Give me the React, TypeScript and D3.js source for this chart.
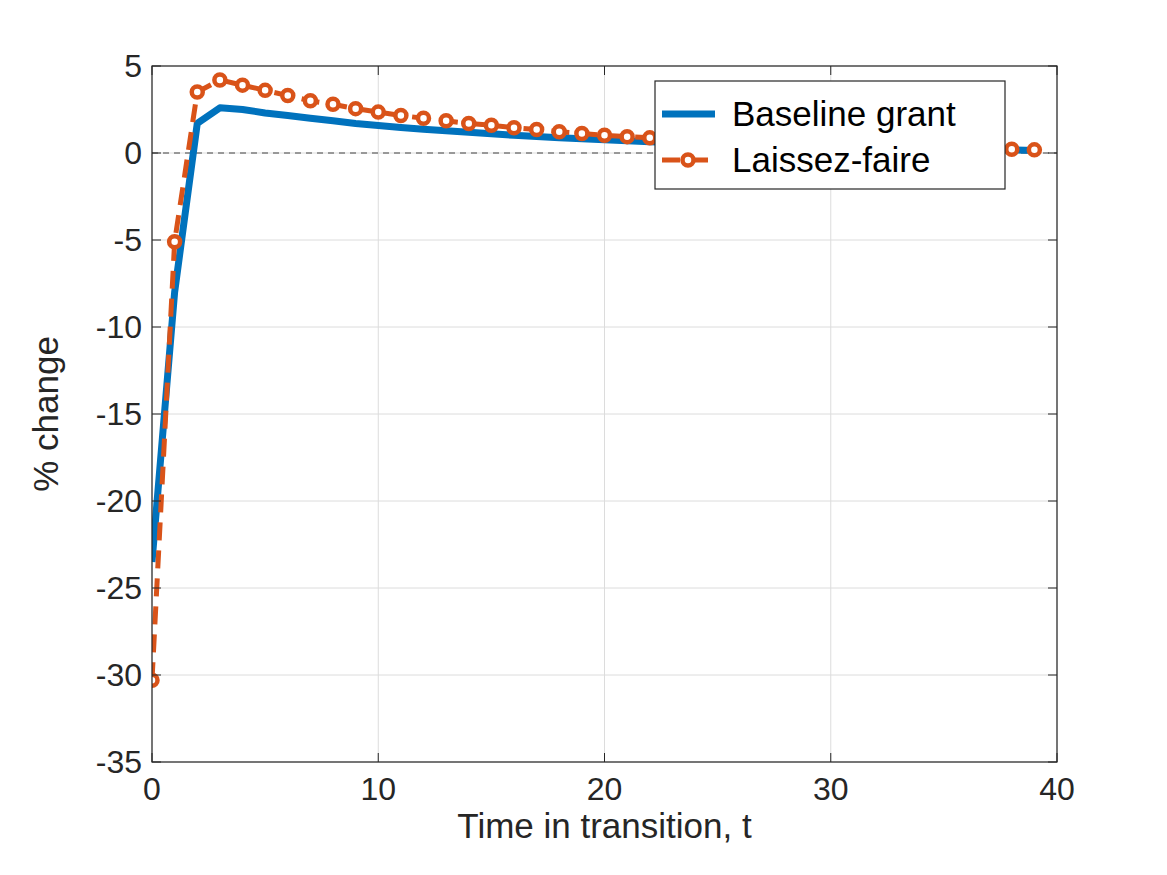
import React from "react";
import * as d3 from "d3";

const tSteps = d3.range(0, 40);
const baselineGrant = [
  -23.5, -8.0, 1.7, 2.6, 2.5, 2.3, 2.15, 2.0, 1.85, 1.7, 1.58, 1.47, 1.37, 1.28, 1.19, 1.1,
  1.02, 0.95, 0.88, 0.82, 0.76, 0.7, 0.65, 0.6, 0.56, 0.52, 0.48, 0.44, 0.41, 0.38, 0.35,
  0.32, 0.3, 0.27, 0.25, 0.23, 0.21, 0.19, 0.17, 0.15,
];
const laissezFaire = [
  -30.3, -5.1, 3.5, 4.2, 3.9, 3.6, 3.3, 3.0, 2.8, 2.55, 2.35, 2.15, 2.0, 1.85, 1.7, 1.6,
  1.45, 1.35, 1.22, 1.12, 1.02, 0.94, 0.87, 0.8, 0.74, 0.68, 0.63, 0.58, 0.54, 0.5, 0.46,
  0.42, 0.39, 0.36, 0.33, 0.3, 0.27, 0.24, 0.21, 0.18,
];
const xTicks = [0, 10, 20, 30, 40];
const yTicks = [5, 0, -5, -10, -15, -20, -25, -30, -35];

const W = 1167, H = 875;
const L = 152, R = 1057, T = 66, B = 762;
const BLUE = "#0072BD", ORANGE = "#D95319";
const FONT = "'Liberation Sans', Arial, sans-serif";

export default function App() {
  const x = d3.scaleLinear().domain([0, 40]).range([L, R]);
  const y = d3.scaleLinear().domain([-35, 5]).range([B, T]);
  const line = d3.line<number>().x((_, i) => x(tSteps[i])).y((d) => y(d));
  return (
    <svg width={W} height={H} style={{ position: "absolute", left: 0, top: 0, background: "#fff" }}>
      <defs>
        <clipPath id="plot"><rect x={L} y={T} width={R - L} height={B - T} /></clipPath>
      </defs>
      {xTicks.map((t) => (
        <line key={"gx" + t} x1={x(t)} x2={x(t)} y1={T} y2={B} stroke="#dcdcdc" strokeWidth={1} />
      ))}
      {yTicks.map((t) => (
        <line key={"gy" + t} x1={L} x2={R} y1={y(t)} y2={y(t)} stroke="#dcdcdc" strokeWidth={1} />
      ))}
      <line x1={L} x2={R} y1={y(0)} y2={y(0)} stroke="#444" strokeWidth={1} strokeDasharray="6,5" />
      <g clipPath="url(#plot)">
        <path d={line(baselineGrant) || ""} fill="none" stroke={BLUE} strokeWidth={7} strokeLinejoin="round" />
        <path d={line(laissezFaire) || ""} fill="none" stroke={ORANGE} strokeWidth={5} strokeDasharray="18,10" />
        {laissezFaire.map((v, i) => (
          <circle key={i} cx={x(tSteps[i])} cy={y(v)} r={5.5} fill="#fff" stroke={ORANGE} strokeWidth={4.5} />
        ))}
      </g>
      <rect x={L} y={T} width={R - L} height={B - T} fill="none" stroke="#262626" strokeWidth={1.2} />
      {xTicks.map((t) => (
        <g key={"tx" + t}>
          <line x1={x(t)} x2={x(t)} y1={B} y2={B - 9} stroke="#262626" />
          <line x1={x(t)} x2={x(t)} y1={T} y2={T + 9} stroke="#262626" />
          <text x={x(t)} y={B + 38} textAnchor="middle" fontFamily={FONT} fontSize={32} fill="#262626">{t}</text>
        </g>
      ))}
      {yTicks.map((t) => (
        <g key={"ty" + t}>
          <line x1={L} x2={L + 9} y1={y(t)} y2={y(t)} stroke="#262626" />
          <line x1={R} x2={R - 9} y1={y(t)} y2={y(t)} stroke="#262626" />
          <text x={L - 10} y={y(t) + 11} textAnchor="end" fontFamily={FONT} fontSize={32} fill="#262626">{t}</text>
        </g>
      ))}
      <text x={(L + R) / 2} y={838} textAnchor="middle" fontFamily={FONT} fontSize={35} fill="#262626">Time in transition, t</text>
      <text transform={`translate(58,${(T + B) / 2}) rotate(-90)`} textAnchor="middle" fontFamily={FONT} fontSize={35} fill="#262626">% change</text>
      <g>
        <rect x={655} y={81} width={350} height={108} fill="#fff" stroke="#262626" strokeWidth={1.2} />
        <line x1={662} x2={715} y1={114} y2={114} stroke={BLUE} strokeWidth={7} />
        <text x={732} y={126} fontFamily={FONT} fontSize={35} fill="#000">Baseline grant</text>
        <line x1={662} x2={715} y1={160} y2={160} stroke={ORANGE} strokeWidth={5} strokeDasharray="18,10" />
        <circle cx={688} cy={160} r={5.5} fill="#fff" stroke={ORANGE} strokeWidth={4.5} />
        <text x={732} y={172} fontFamily={FONT} fontSize={35} fill="#000">Laissez-faire</text>
      </g>
    </svg>
  );
}
